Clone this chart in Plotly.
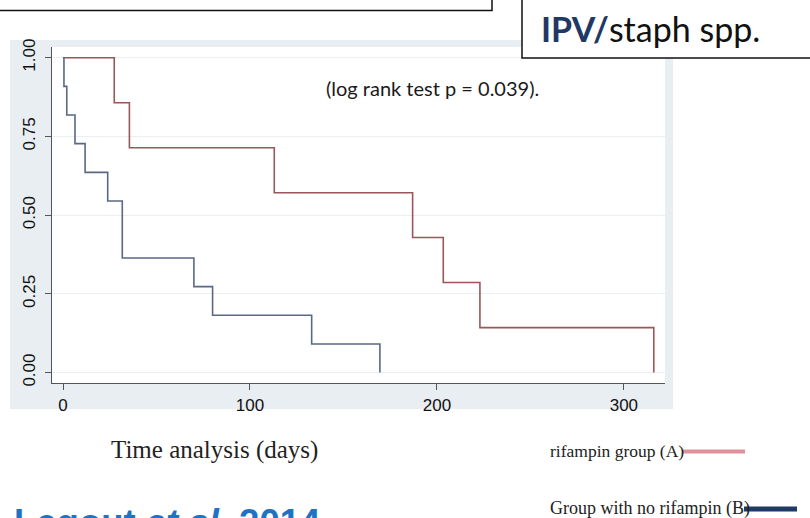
import plotly.graph_objects as go

# Kaplan-Meier estimates (event times in days, survival after each event)
rif_days = [0, 27.4, 35.5, 113, 187, 203.4, 223, 316]
rif_surv = [1.0, 0.857, 0.714, 0.571, 0.429, 0.286, 0.143, 0.0]

norif_days = [0, 0.5, 2, 6.4, 11.8, 23.9, 31.7, 70, 80, 133, 169.5]
norif_surv = [1.0, 0.909, 0.818, 0.727, 0.636, 0.545, 0.364, 0.273, 0.182, 0.091, 0.0]

x_ticks = [0, 100, 200, 300]
y_ticks = [0.0, 0.25, 0.5, 0.75, 1.0]
y_tick_text = ["0.00", "0.25", "0.50", "0.75", "1.00"]

W, H = 810, 518
L, R, T, B = 52, 665, 47, 383  # plot area in pixels


def px(x):
    return (x - L) / (R - L)


def py(y):
    return (B - y) / (B - T)


fig = go.Figure()
fig.add_trace(go.Scatter(x=rif_days, y=rif_surv, mode="lines", line_shape="hv",
                         line=dict(color="#9c555b", width=1.6), name="rifampin group (A)"))
fig.add_trace(go.Scatter(x=norif_days, y=norif_surv, mode="lines", line_shape="hv",
                         line=dict(color="#5a6886", width=1.6), name="Group with no rifampin (B)"))

shapes = [
    # Stata-style graph region behind the plot
    dict(type="rect", xref="paper", yref="paper", x0=px(10), x1=px(673), y0=py(409), y1=py(40),
         fillcolor="#e8eef1", line=dict(width=0), layer="below"),
    dict(type="rect", xref="paper", yref="paper", x0=0, x1=1, y0=0, y1=1,
         fillcolor="white", line=dict(width=0), layer="below"),
    # slide boxes
    dict(type="rect", xref="paper", yref="paper", x0=px(-10), x1=px(492), y0=py(10.5), y1=py(-10),
         line=dict(color="#111", width=1.5), fillcolor="rgba(0,0,0,0)"),
    dict(type="rect", xref="paper", yref="paper", x0=px(522), x1=px(830), y0=py(58), y1=py(-10),
         line=dict(color="#111", width=1.5), fillcolor="white", layer="above"),
    # legend keys
    dict(type="line", xref="paper", yref="paper", x0=px(683), x1=px(745), y0=py(451.5), y1=py(451.5),
         line=dict(color="#e0909a", width=4)),
    dict(type="line", xref="paper", yref="paper", x0=px(744), x1=px(797), y0=py(509), y1=py(509),
         line=dict(color="#1f3a64", width=5)),
]


def label(text, x, y, size, family, color="#222", xanchor="center", yanchor="middle"):
    return dict(text=text, x=px(x), y=py(y), xref="paper", yref="paper",
                xanchor=xanchor, yanchor=yanchor, showarrow=False,
                font=dict(family=family, size=size, color=color))


annotations = [
    label("(log rank test p = 0.039).", 432, 88, 20, "Lato", color="#1a1a1a"),
    label("<b><span style='color:#1f3864'>IPV/</span></b>staph spp.", 539, 29, 34, "Lato",
          color="#111", xanchor="left"),
    label("Time analysis (days)", 215, 450, 25, "Liberation Serif"),
    label("rifampin group (A)", 548, 451, 17.5, "Liberation Serif", xanchor="left"),
    label("Group with no rifampin (B)", 548, 508, 18, "Liberation Serif", xanchor="left"),
    label("<b>Legout <i>et al.</i> 2014</b>", 12, 500, 36.5, "Liberation Sans",
          color="#1f73c4", xanchor="left", yanchor="top"),
]

tick_font = dict(family="Liberation Sans", size=17, color="#111")

fig.update_layout(
    width=W, height=H,
    margin=dict(l=L, r=W - R, t=T, b=H - B, pad=0),
    paper_bgcolor="white", plot_bgcolor="white",
    showlegend=False,
    shapes=shapes, annotations=annotations,
    xaxis=dict(range=[-5.9, 322], tickvals=x_ticks, showgrid=False, zeroline=False,
               showline=True, linecolor="#555", linewidth=1.2, ticks="outside", ticklen=6,
               tickcolor="#555", tickfont=tick_font),
    yaxis=dict(range=[-0.033, 1.034], tickvals=y_ticks, ticktext=y_tick_text, tickangle=-90,
               showgrid=True, gridcolor="#eceff1", gridwidth=1.2, zeroline=False,
               showline=True, linecolor="#555", linewidth=1.2, ticks="outside", ticklen=6,
               tickcolor="#555", tickfont=tick_font, ticklabelstandoff=3),
)

fig.write_html("out.html")
